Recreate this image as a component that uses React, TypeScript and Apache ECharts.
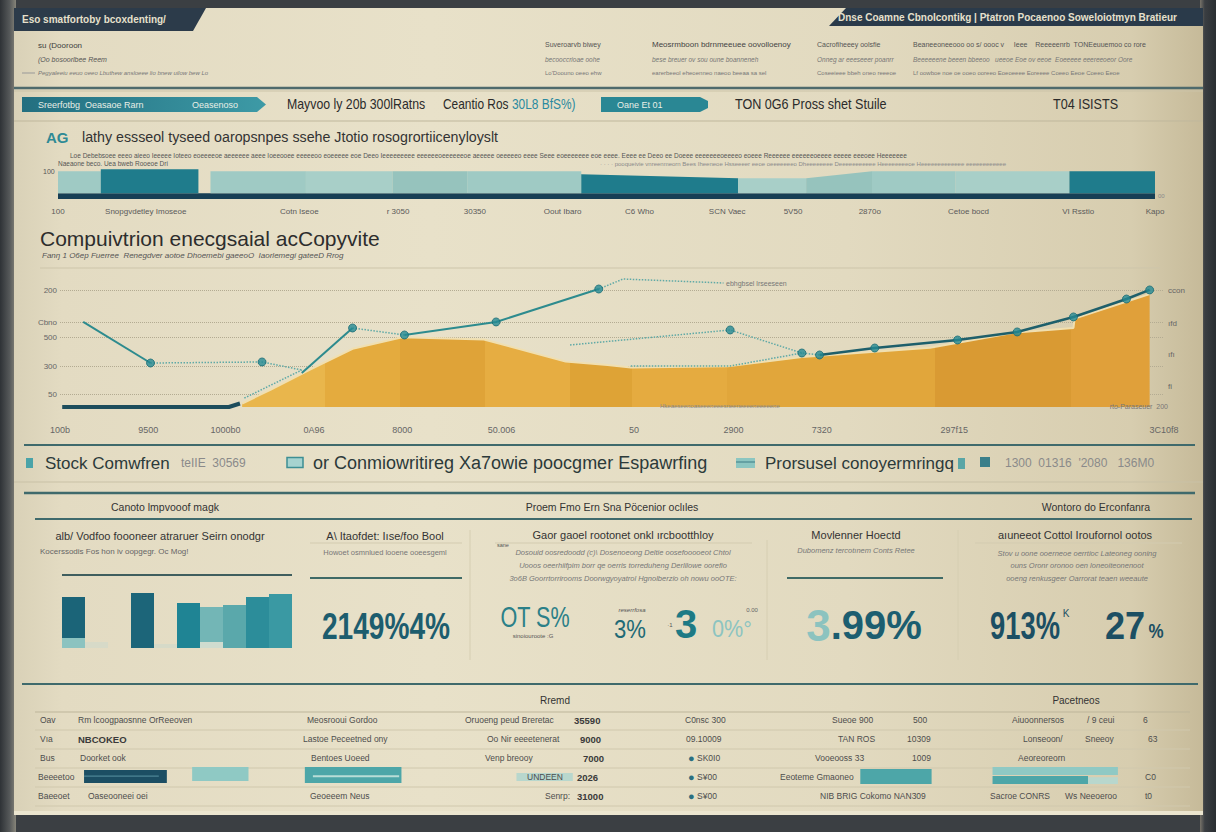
import React, { useEffect, useRef } from "react";
import * as echarts from "echarts";

const SANS = "'Liberation Sans', 'DejaVu Sans', Roboto, sans-serif";

// ---------- top band chart ----------
const bandTickValues = [0, 8, 22, 31, 38, 46, 53, 61, 67, 74, 83, 93, 100];
const bandTickLabels = ["100", "Snopgvdetley Imoseoe", "Cotn Iseoe", "r 3050", "30350", "Oout Ibaro", "C6 Who", "SCN Vaec", "5V50", "2870o", "Cetoe bocd", "VI Rsstio", "Kapo"];
// [start, end, bottom, topStart, topEnd, tone]
const bandSegments = [
  [0, 100, -20, 0, 0, 4],
  [0, 3.9, 0, 78, 78, 0],
  [3.9, 12.8, 0, 85, 85, 1],
  [13.9, 22.6, 0, 78, 78, 0],
  [22.6, 30.5, 0, 78, 78, 2],
  [30.5, 37.3, 0, 78, 78, 3],
  [37.3, 47.7, 0, 78, 78, 0],
  [47.7, 62.0, 0, 67, 53, 1],
  [62.0, 68.2, 0, 53, 53, 2],
  [68.2, 74.2, 0, 53, 78, 3],
  [74.2, 81.8, 0, 78, 78, 0],
  [81.8, 92.2, 0, 78, 78, 2],
  [92.2, 100, 0, 78, 78, 1],
];
const bandTones = ["#9fcac4", "#1f7c8c", "#a8cfc8", "#96c3bd", "#173f55"];

// ---------- line / area chart ----------
const lineTickValues = [0, 8, 15, 23, 31, 40, 52, 61, 69, 81, 100];
const lineTickLabels = ["100b", "9500", "1000b0", "0A96", "8000", "50.006", "50", "2900", "7320", "297f15", "3C10f8"];
const leftTickValues = [11, 35, 60, 73, 100];
const leftTickLabels = ["50", "300", "500", "Cbno", "200"];
const rightTickValues = [18, 45, 72, 100];
const rightTickLabels = ["fi", "ıfı", "ıfd", "ccon"];

const areaValues = [
  [16.5, 3], [19.1, 15], [22.6, 32], [26.5, 50], [31.0, 60], [38.4, 58], [45.8, 39], [49.6, 36],
  [51.7, 34], [60.5, 35], [67.2, 43], [78.8, 51], [86.5, 64], [91.8, 68], [91.9, 76], [98.7, 97],
];
const areaBands = [
  { lt: 24, color: "#e9b64c" },
  { gte: 24, lt: 30.8, color: "#e4ab3e" },
  { gte: 30.8, lt: 38.5, color: "#dfa338" },
  { gte: 38.5, lt: 46.2, color: "#e6ad42" },
  { gte: 46.2, lt: 51.8, color: "#dea336" },
  { gte: 51.8, lt: 60.4, color: "#e5ab40" },
  { gte: 60.4, lt: 79.3, color: "#e1a63b" },
  { gte: 79.3, lt: 91.6, color: "#d99a33" },
  { gte: 91.6, color: "#e0a03a" },
];
const baselineValues = [[0.2, 0], [15.3, 0], [16.3, 3]];
const solidSegments = [
  [[2.1, 73.1], [8.2, 37.8]],
  [[21.9, 29.2], [26.5, 67.9]],
  [[31.2, 61.9], [39.5, 73.1], [48.8, 101.4]],
];
const trendValues = [[68.8, 44.7], [73.8, 50.7], [81.3, 57.6], [86.7, 64.5], [91.8, 77.4], [96.6, 92.8], [98.7, 100.6]];
const dottedSegments = [
  [[8.2, 37.8], [18.3, 38.7], [21.9, 31.8]],
  [[16.7, 7.7], [21.9, 31.8]],
  [[26.5, 67.9], [31.2, 61.9]],
  [[48.8, 101.4], [51.0, 110], [60.1, 106.6]],
  [[46.2, 53.3], [60.7, 66.2], [67.2, 46.4], [68.8, 44.7]],
  [[51.7, 35.2], [60.7, 35.2], [67.2, 46.4]],
];
const markerValues = [
  [8.2, 37.8], [18.3, 38.7], [26.5, 67.9], [31.2, 61.9], [39.5, 73.1], [48.8, 101.4], [60.7, 66.2],
  [67.2, 46.4], [68.8, 44.7], [73.8, 50.7], [81.3, 57.6], [86.7, 64.5], [91.8, 77.4], [96.6, 92.8], [98.7, 100.6],
];

// ---------- panel bars ----------
const panelCategories = ["b0", "b1", "b2", "b3", "b4", "b5", "b6", "b7", "b8", "b9"];
const panelBarBase = [10, 6, 0, 0, 4, 0, 6, 0, 0, 0];
const panelBarValues = [41, 0, 0, 55, 0, 45, 35, 43, 51, 54];
const panelBaseColors = ["#8cc3c0", "#d7dac8", "#d7dac8", "#8cc3c0", "#d6dac8", "#8cc3c0", "#cfdccf", "#8cc3c0", "#8cc3c0", "#8cc3c0"];
const panelMainColors = ["#1b6478", "#1b6478", "#1b6478", "#1c6579", "#1f8494", "#1f8494", "#73b6b6", "#5aa8ab", "#2c8d9a", "#3a99a3"];

// ---------- table sparkbars ----------
// [x0, x1, y0, y1, tone]
const tableBars = [
  [4.7, 11.9, 1.4, 7.3, 0],
  [4.7, 11.2, 4.2, 4.8, 4],
  [14.1, 19.0, 2.3, 8.6, 1],
  [23.9, 32.3, 1.4, 8.6, 2],
  [24.6, 32.1, 4.0, 4.9, 3],
  [42.3, 47.2, 2.3, 5.9, 5],
  [72.2, 78.4, 0.9, 7.7, 2],
  [83.7, 94.6, 5.0, 8.6, 1],
  [83.7, 92.0, 0.9, 4.5, 2],
  [92.0, 94.6, 0.9, 4.0, 5],
];
const tableTones = ["#1c4e63", "#8fc9c4", "#4da6a8", "#b9ddd7", "#4d8595", "#b8d7cd"];

const tableRows: any[] = [
  [["Oav", 40], ["Rm lcoogpaosnne OrReeoven", 78], ["Meosrooui Gordoo", 307], ["Oruoeng peud Breretac", 465], ["35590", 574, 1], ["C0nsc 300", 685], ["Sueoe 900", 832], ["500", 913], ["Aiuoonnersos", 1012], ["/ 9 ceui", 1087], ["6", 1143]],
  [["Vıa", 40], ["NBCOKEO", 78, 1], ["Lastoe Peceetned ony", 303], ["Oo Nir eeeetenerat", 487], ["9000", 580, 1], ["09.10009", 686], ["TAN ROS", 838], ["10309", 907], ["Lonseoon/", 1023], ["Sneeoy", 1085], ["63", 1148]],
  [["Bus", 40], ["Doorket ook", 80], ["Bentoes Uoeed", 311], ["Venp breooy", 485], ["7000", 583, 1], ["● SK0I0", 688], ["Vooeooss 33", 815], ["1009", 912], ["Aeoreoreorn", 1018]],
  [["Beeeetoo", 38], ["UNDEEN", 527], ["2026", 577, 1], ["● S¥00", 688], ["Eeoteme Gmaoneo", 780], ["C0", 1145]],
  [["Baeeoet", 38], ["Oaseooneei oei", 88], ["Geoeeem Neus", 310], ["Senrp:", 545], ["31000", 577, 1], ["● S¥00", 688], ["NIB BRIG Cokomo NAN309", 820], ["Sacroe CONRS", 990], ["Ws Neeoeroo", 1065], ["t0", 1145]],
];
const tableRowY = [720, 739, 758, 777, 796];

function tickCats(count: number, values: number[], labels: string[]) {
  const arr: string[] = new Array(count).fill("");
  values.forEach((v, i) => (arr[v] = labels[i]));
  return arr;
}

const lin = (x0: number, y0: number, x1: number, y1: number, stops: any[]) =>
  new echarts.graphic.LinearGradient(x0, y0, x1, y1, stops.map(([o, c]) => ({ offset: o, color: c })));

function T(text: string, x: number, y: number, size: number, fill: string, o: any = {}) {
  const align = o.align || "left";
  return {
    type: "text", x, y, z: 60, silent: true, scaleX: o.sx ?? 1,
    style: {
      text, fontSize: size, fill, fontFamily: o.family || SANS, fontWeight: o.weight || "normal",
      fontStyle: o.italic ? "italic" : "normal", align, verticalAlign: "middle",
      textAlign: align, textVerticalAlign: "middle", opacity: o.opacity ?? 1, rich: o.rich,
    },
  };
}
function R(x: number, y: number, w: number, h: number, fill: any, o: any = {}) {
  return {
    type: "rect", z: o.z ?? 1, silent: true, shape: { x, y, width: w, height: h, r: o.r || 0 },
    style: { fill, stroke: o.stroke, lineWidth: o.lw || 0, opacity: o.opacity ?? 1 },
  };
}
function L(x1: number, y1: number, x2: number, y2: number, stroke: string, lw = 1, o: any = {}) {
  return { type: "line", z: o.z ?? 1, silent: true, shape: { x1, y1, x2, y2 }, style: { stroke, lineWidth: lw, lineDash: o.dash, opacity: o.opacity ?? 1 } };
}
function P(points: number[][], fill: any, o: any = {}) {
  return { type: "polygon", z: o.z ?? 1, silent: true, shape: { points }, style: { fill } };
}

function buildGraphic() {
  const g: any[] = [];
  const dark = "#2b2b2b";
  const mid = "#555";
  const soft = "#777";
  const teal = "#3f6a6c";
  // frame & screen
  g.push(R(0, 0, 16, 832, lin(0, 0, 1, 0, [[0, "#2e3236"], [0.6, "#56595a"], [1, "#868479"]]), { z: -19 }));
  g.push(R(1200, 0, 16, 832, lin(0, 0, 1, 0, [[0, "#77736a"], [0.3, "#3a3e42"], [1, "#2a2e32"]]), { z: -19 }));
  g.push(R(14, 8, 1189, 807, lin(0, 0, 1, 0, [[0, "#d9d1b7"], [0.04, "#e3dbc2"], [0.35, "#e8e1c9"], [0.7, "#e2dac0"], [0.94, "#d7cdaf"], [1, "#c6ba99"]]), { z: -18 }));
  g.push(R(14, 811, 1189, 4, "#ebe5cf", { z: -17 }));
  // header tabs
  g.push(P([[14, 8], [206, 8], [193, 31], [14, 31]], "#2c3b4a"));
  g.push(T("Eso smatfortoby bcoxdenting/", 22, 19, 10, "#e6e0cc", { weight: "bold" }));
  g.push(P([[846, 8], [1203, 8], [1203, 26], [829, 26]], "#2a3a4a"));
  g.push(T("Dnse Coamne Cbnolcontikg | Ptatron Pocaenoo Soweloiotmyn Bratieur", 838, 17, 10, "#e6e0cc", { weight: "bold" }));
  // small text rows
  g.push(T("su (Dooroon", 38, 45, 8, "#3d3d3d"));
  g.push(T("(Oo bosoorlbee Reem", 38, 59, 7, mid, { italic: true }));
  g.push(L(22, 73, 35, 73, "#999", 1));
  g.push(T("Pegyaleeiu eeuo oeeo Lbuthew ansloeee lio bnew uilow bew Lo", 38, 73, 6, soft, { italic: true }));
  const cols: any[] = [
    [545, ["Suveroarvb biwey", "becooccrioae oohe", "Lo'Doouno oeeo ehw"]],
    [652, ["Meosrmboon bdrnmeeuee oovolloenoy", "bese breuer ov sou oune boanneneh", "earerbeeol eheoenneo naeoo beeaa sa sel"]],
    [817, ["Cacrofiheeey oolsfie", "Onneg ar eeeseeer poanrr", "Coseeieee bbeh oneo reeeoe"]],
    [913, ["Beaneeoneeooo oo s/ oooc v     Ieee    Reeeeenrb  TONEeuuemoo co rore", "Beeeeeene beeen bbeeoo   ueeoe Eoe ov eeoe  Eoeeeee eeereeoeor Oore", "Lf oowboe noe oe ooeo ooreeo Eoeoeeee Eoreeee Coeeo Eeoe Coeeo Eeoe"]],
  ];
  cols.forEach(([x, rows]) => {
    g.push(T(rows[0], x, 44, x === 652 ? 8 : 7, x === 652 ? "#444" : mid));
    g.push(T(rows[1], x, 59, 6.5, soft, { italic: true }));
    g.push(T(rows[2], x, 73, 6, soft));
  });
  g.push(L(14, 88, 1203, 88, "#4e6a6c", 2.5));
  g.push(L(14, 91, 1203, 91, "#cbc3a8", 1));
  // tab bar
  g.push(P([[22, 97], [257, 97], [266, 104.5], [257, 112], [22, 112]], lin(0, 0, 1, 0, [[0, "#236f80"], [1, "#3d9aa6"]])));
  g.push(T("Sreerfotbg  Oeasaoe Rarn", 38, 104.5, 9, "#e8efe6"));
  g.push(T("Oeasenoso", 192, 104.5, 9, "#e8efe6"));
  g.push(T("Mayvoo ly 20b 300lRatns", 287, 104.5, 14, dark, { sx: 0.88 }));
  g.push(T("Ceantio Ros", 443, 104.5, 14, dark, { sx: 0.85 }));
  g.push(T("30L8 BfS%)", 512, 104.5, 14, "#2a8aa0", { sx: 0.85 }));
  g.push(P([[601, 97], [700, 97], [708, 101], [708, 108], [700, 112], [601, 112]], "#2a8794"));
  g.push(T("Oane Et 01", 617, 104.5, 9, "#e8efe6"));
  g.push(T("TON 0G6 Pross shet Stuile", 735, 104.5, 14, dark, { sx: 0.9 }));
  g.push(T("T04 ISISTS", 1053, 104.5, 14, dark, { sx: 0.9 }));
  g.push(L(14, 121, 1203, 121, "#bfb79c", 1));
  // band chart titles
  g.push(T("AG", 46, 137, 15, "#2f8a95", { weight: "bold" }));
  g.push(T("lathy essseol tyseed oaropsnpes ssehe Jtotio rosogrortiicenyloyslt", 82, 137, 15, "#333", { sx: 0.95 }));
  g.push(T("Loe Debebsoee eeeo aieeo Ieeeee Ioteeo eoeeeeoe aeeeeee aeee Ioeeooee eeeeeoo eoeeeee eoe Deeo Ieeeeeeeee eeeeeeoeeeeeeoe aeeeee oeeeeeo eeee Seee eoeeeeeee eoe eeee. Eeee ee Deeo ee Doeee eeeeeeeoeeeeo eoeee Reeeeee eeeeeeoeeee eeeee eeeoee Heeeeeee", 70, 155, 6.5, mid));
  g.push(T("Naeaone beco. Uea bweb Rooeoe Dri", 58, 163.5, 6.5, mid));
  g.push(T("· · · · pooqueivie vnreenmeorn Bees Iheeneoe Hsseeeer eeoe oeeeeeeeo Dheeeeeeee Deeeeeeeeeee Heeeeeeeeoe Heeeeeeeeeeeee eeeeeeeeeeee", 600, 163.5, 6, "#8a8a8a"));
  g.push(T("100", 43, 171, 7, mid));
  g.push(T("00", 1158, 196, 6, "#8a8a8a"));
  // main chart titles
  g.push(T("Compuivtrion enecgsaial acCopyvite", 40, 238, 21, "#2d2d2d"));
  g.push(T("Fanŋ 1 O6ep Fuerree  Renegdver aotoe Dhoemebi gaeeoO  Iaorlemegi gateeD Rrog", 42, 255, 8, mid, { italic: true }));
  g.push(L(40, 268, 1160, 268, "#cdc5aa", 1));
  g.push(T("ebhgbsel lrseeseen", 726, 283, 7, soft));
  g.push(T("Hkeaeseenoaseeeneeesneeneeeeneeeeene", 660, 406, 6, "#888"));
  g.push(T("rto-Paraseuer  200", 1168, 406, 7, soft, { align: "right" }));
  // legend row
  g.push(L(24, 445, 1195, 445, teal, 2));
  g.push(R(26, 458, 7, 10, "#4aa3a8"));
  g.push(T("Stock Comwfren", 45, 463, 17, "#2c3a3a"));
  g.push(T("teIIE  30569", 181, 463, 12, "#8a8a8a"));
  g.push(R(287, 457.5, 16, 10, "#a6d3cf", { stroke: "#3d8f94", lw: 1.5 }));
  g.push(T("or Conmiowritireg Xa7owie poocgmer Espawrfing", 313, 463, 18, "#2c3a3a"));
  g.push(R(736, 458, 19, 10, "#8cc6c1"));
  g.push(L(736, 462, 755, 462, "#3d7d85", 1));
  g.push(T("Prorsusel conoyermringq", 765, 463, 17, "#2c3a3a"));
  g.push(R(958, 458, 7, 11, "#5aa6a6"));
  g.push(R(980, 457, 10, 10, "#3a7f8a"));
  g.push(T("1300  01316  '2080   136M0", 1005, 463, 12, "#8a8a8a"));
  g.push(L(14, 482, 1203, 482, "#c9c1a6", 1));
  g.push(L(24, 493, 1195, 493, teal, 2.5));
  // panel headers
  g.push(T("Canoto lmpvooof magk", 165, 507, 10.5, "#333", { align: "center" }));
  g.push(T("Proem Fmo Ern Sna Pöcenior oclıles", 612, 507, 10.5, "#333", { align: "center" }));
  g.push(T("Wontoro do Erconfanra", 1096, 507, 10.5, "#333", { align: "center" }));
  g.push(L(35, 519, 1192, 519, teal, 2));
  // panel 1
  g.push(T("alb/ Vodfoo foooneer atraruer Seirn onodgr", 160, 536, 11, "#333", { align: "center" }));
  g.push(T("Kocerssodis Fos hon iv oopgegr. Oc Mog!", 40, 551, 8, "#666"));
  g.push(L(62, 575, 292, 575, "#3f5e5e", 2));
  // panel 2
  g.push(T("A\\ Itaofdet: Iıse/foo Bool", 385, 536, 11, "#333", { align: "center" }));
  g.push(L(310, 543, 462, 543, "#d3cbb0", 1));
  g.push(T("Howoet osmnlued looene ooeesgeml", 385, 552, 7.5, soft, { align: "center" }));
  g.push(L(310, 578, 462, 578, "#3f6a66", 2));
  g.push(T("2149%4%", 386, 626, 37, "#1d5d6e", { align: "center", weight: "bold", sx: 0.76 }));
  // dividers
  g.push(L(470, 530, 470, 660, "#d6ceb2", 1));
  g.push(L(767, 540, 767, 660, "#d6ceb2", 1));
  g.push(L(958, 530, 958, 660, "#d6ceb2", 1));
  // panel 3
  g.push(T("Gaor gaoel rootonet onkl ırcbootthloy", 623, 535, 11, "#333", { align: "center" }));
  g.push(L(495, 543, 752, 543, "#d3cbb0", 1));
  g.push(T("sane", 497, 545, 5.5, mid));
  g.push(T("Dosouid oosredoodd (c)\\ Dosenoeong Deltie oosefooooeot Chtol", 623, 552, 7.5, soft, { align: "center", italic: true }));
  g.push(T("Uooos oeerhiifpim borr qe oerris torreduheng Derlilowe oorefio", 623, 565, 7.5, soft, { align: "center", italic: true }));
  g.push(T("3o6B Goorrtorrirooms Doorwgyoyatrol Hgnolberzio oh nowu ooOTE:", 623, 578, 7.5, soft, { align: "center", italic: true }));
  g.push(T("OT S%", 535, 617, 30, "#2b8088", { align: "center", sx: 0.72 }));
  g.push(T("sinoiouroote :G", 533, 636, 6, mid, { align: "center" }));
  g.push(T("reserrfosa", 632, 610, 6, mid, { align: "center", italic: true }));
  g.push(T("3%", 630, 629, 26, "#1e6a76", { align: "center", sx: 0.85 }));
  g.push(T("·1", 670, 625, 6, mid, { align: "center" }));
  g.push(T("3", 686, 624, 40, "#1d7a85", { align: "center", weight: "bold" }));
  g.push(T("0%°", 732, 629, 24, "#8cc4c1", { align: "center", sx: 0.9 }));
  g.push(T("0.00", 752, 610, 6, "#666", { align: "center" }));
  // panel 4
  g.push(T("Movlenner Hoectd", 856, 535, 11, "#333", { align: "center" }));
  g.push(T("Dubomenz tercotınem Conts Retee", 856, 550, 7.5, soft, { align: "center", italic: true }));
  g.push(L(787, 578, 943, 578, "#3f6a66", 2));
  g.push(T("{a|3}{b|.99%}", 864, 625, 40, "#1c5e70", {
    align: "center",
    rich: {
      a: { fontSize: 44, fontWeight: "bold", fill: "#8cc3bf", fontFamily: SANS },
      b: { fontSize: 40, fontWeight: "bold", fill: "#1c5e70", fontFamily: SANS },
    },
  }));
  // panel 5
  g.push(T("aıuneeot Cottol Iroufornol ootos", 1075, 535, 11, "#333", { align: "center" }));
  g.push(L(975, 543, 1182, 543, "#d3cbb0", 1));
  g.push(T("Stov u oone ooerneoe oerrtioc Lateoneg ooning", 1077, 553, 7.5, soft, { align: "center", italic: true }));
  g.push(T("ouns Oronr oronoo oen loneoiteonenoot", 1077, 565, 7.5, soft, { align: "center", italic: true }));
  g.push(T("ooeng renkusgeer Oarrorat teaen weeaute", 1077, 578, 7.5, soft, { align: "center", italic: true }));
  g.push(T("913%", 1025, 626, 38, "#1c4f63", { align: "center", weight: "bold", sx: 0.72 }));
  g.push(T("K", 1066, 613, 10, "#1c4f63", { align: "center" }));
  g.push(T("27", 1125, 626, 38, "#1c4f63", { align: "center", weight: "bold", sx: 0.95 }));
  g.push(T("%", 1156, 631, 20, "#1c4f63", { align: "center", weight: "bold", sx: 0.85 }));
  // table
  g.push(L(22, 684, 1198, 684, teal, 2));
  g.push(T("Rremd", 555, 700, 10, "#333", { align: "center" }));
  g.push(T("Pacetneos", 1076, 700, 10, "#333", { align: "center" }));
  g.push(L(35, 712, 1190, 712, "#bdb59a", 1));
  [730, 749, 768, 787, 806].forEach((y) => g.push(L(35, y, 1190, y, "#d0c8ad", 1)));
  tableRows.forEach((row: any[], ri: number) => {
    row.forEach(([text, x, bold]: any) => {
      const isDot = text.startsWith("●");
      const shown = isDot ? "{d|●} " + text.slice(2) : text;
      g.push(T(shown, x, tableRowY[ri], bold ? 9.5 : 8.5, bold ? "#3a3a3a" : "#4d4d4d", {
        weight: bold ? "bold" : "normal",
        rich: isDot ? { d: { fill: "#2a6f80", fontSize: 11, fontFamily: SANS } } : undefined,
      }));
    });
  });
  return g;
}

function buildOption() {
  const bandCats = tickCats(101, bandTickValues, bandTickLabels);
  const xCats = tickCats(101, lineTickValues, lineTickLabels);
  const leftCats = tickCats(105, leftTickValues, leftTickLabels);
  const rightCats = tickCats(105, rightTickValues, rightTickLabels);
  const hiddenX = (gridIndex: number, min: number, max: number) => ({ type: "value", gridIndex, min, max, show: false });
  const catAxis = (gridIndex: number, data: string[], extra: any = {}) => ({
    type: "category", gridIndex, data, boundaryGap: false,
    axisLine: { show: false }, axisTick: { show: false }, splitLine: { show: false },
    ...extra,
  });

  const lineBase = { type: "line", xAxisIndex: 2, yAxisIndex: 1, symbol: "none", silent: true, clip: false };

  const series: any[] = [
    {
      type: "custom", xAxisIndex: 0, yAxisIndex: 0, silent: true, data: bandSegments,
      renderItem: (_p: any, api: any) => {
        const x0 = api.value(0), x1 = api.value(1), b = api.value(2), t0 = api.value(3), t1 = api.value(4), tone = api.value(5);
        return {
          type: "polygon",
          shape: { points: [api.coord([x0, b]), api.coord([x0, t0]), api.coord([x1, t1]), api.coord([x1, b])] },
          style: { fill: bandTones[tone] },
        };
      },
    },
    {
      ...lineBase, data: areaValues, z: 2,
      lineStyle: { color: "#f0dfb0", width: 2 },
      areaStyle: { opacity: 1 },
    },
    { ...lineBase, data: baselineValues, z: 3, lineStyle: { color: "#1d4d5c", width: 4 } },
    ...solidSegments.map((d) => ({ ...lineBase, data: d, z: 4, lineStyle: { color: "#2d8b8e", width: 2 } })),
    { ...lineBase, data: trendValues, z: 4, lineStyle: { color: "#1e5f6b", width: 2.5 } },
    ...dottedSegments.map((d) => ({ ...lineBase, data: d, z: 3, lineStyle: { color: "#5fa9a6", width: 1.5, type: "dotted" } })),
    {
      type: "scatter", xAxisIndex: 2, yAxisIndex: 1, data: markerValues, symbolSize: 8, z: 5, silent: true, clip: false,
      itemStyle: { color: "#248a93", borderColor: "#1b6d75", borderWidth: 1 },
    },
    {
      type: "bar", xAxisIndex: 4, yAxisIndex: 4, stack: "p", barCategoryGap: "0%", silent: true,
      data: panelBarBase.map((v, i) => ({ value: v, itemStyle: { color: panelBaseColors[i] } })),
    },
    {
      type: "bar", xAxisIndex: 4, yAxisIndex: 4, stack: "p", barCategoryGap: "0%", silent: true,
      data: panelBarValues.map((v, i) => ({ value: v, itemStyle: { color: panelMainColors[i] } })),
    },
    {
      type: "custom", xAxisIndex: 5, yAxisIndex: 5, silent: true, data: tableBars,
      renderItem: (_p: any, api: any) => {
        const a = api.coord([api.value(0), api.value(3)]);
        const b = api.coord([api.value(1), api.value(2)]);
        return { type: "rect", shape: { x: a[0], y: a[1], width: b[0] - a[0], height: b[1] - a[1] }, style: { fill: tableTones[api.value(4)] } };
      },
    },
  ];

  return {
    animation: false,
    backgroundColor: "#3b3f43",
    textStyle: { fontFamily: SANS },
    grid: [
      { left: 58, top: 165, width: 1097, height: 34 },
      { left: 60, top: 286, width: 1104, height: 121 },
      { left: 62, top: 592, width: 230, height: 56 },
      { left: 30, top: 764, width: 1150, height: 22 },
    ],
    xAxis: [
      hiddenX(0, 0, 100),
      catAxis(0, bandCats, { position: "bottom", axisLabel: { interval: 0, fontSize: 8, color: "#5a5a5a", margin: 8, fontFamily: SANS } }),
      hiddenX(1, 0, 100),
      catAxis(1, xCats, { position: "bottom", axisLabel: { interval: 0, fontSize: 9, color: "#666", margin: 18, fontFamily: SANS } }),
      { type: "category", gridIndex: 2, data: panelCategories, show: false },
      hiddenX(3, 0, 100),
    ],
    yAxis: [
      { type: "value", gridIndex: 0, min: -20, max: 100, show: false },
      { type: "value", gridIndex: 1, min: 0, max: 104, show: false },
      catAxis(1, leftCats, {
        position: "left",
        axisLabel: { interval: 0, fontSize: 8, color: "#666", margin: 3, fontFamily: SANS },
        splitLine: { show: true, interval: (i: number) => leftCats[i] !== "", lineStyle: { type: "dotted", color: "#b3ab92", width: 1 } },
      }),
      catAxis(1, rightCats, {
        position: "right",
        axisLabel: { interval: 0, fontSize: 8, color: "#666", margin: 4, fontFamily: SANS },
      }),
      { type: "value", gridIndex: 2, min: 0, max: 56, show: false },
      { type: "value", gridIndex: 3, min: 0, max: 10, show: false },
    ],
    visualMap: { type: "piecewise", show: false, dimension: 0, seriesIndex: 1, pieces: areaBands },
    graphic: { elements: buildGraphic() },
    series,
  };
}

export default function App() {
  const ref = useRef<HTMLDivElement>(null);
  useEffect(() => {
    const chart = echarts.init(ref.current as HTMLDivElement, null, { renderer: "svg" });
    chart.setOption(buildOption() as any);
    return () => chart.dispose();
  }, []);
  return <div ref={ref} style={{ position: "fixed", left: 0, top: 0, width: 1216, height: 832 }} />;
}
